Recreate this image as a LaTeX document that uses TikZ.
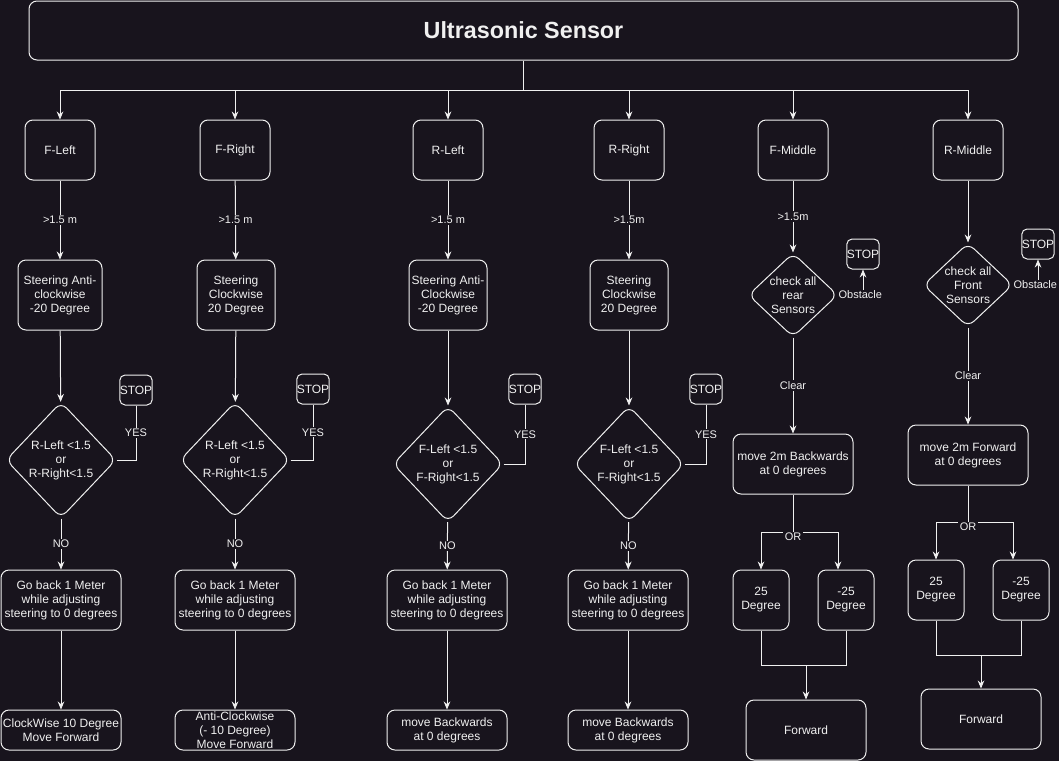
\documentclass[tikz,border=0pt]{standalone}
\usepackage{fontspec}
\setmainfont{Liberation Sans}
\usetikzlibrary{shapes.geometric, arrows.meta, positioning}
\definecolor{canvas}{RGB}{24,20,29}
\definecolor{ink}{RGB}{240,240,240}
\tikzstyle{process} = [rectangle, rounded corners=6pt, minimum width=90pt, minimum height=45pt, inner sep=1pt, align=center, draw=ink, line width=0.75pt, text=ink, fill=canvas, font=\fontsize{9}{10.5}\selectfont]
\tikzstyle{sensor} = [process, minimum width=52.5pt]
\tikzstyle{steer} = [process, minimum width=58.5pt, minimum height=52.5pt]
\tikzstyle{result} = [process, minimum height=30pt]
\tikzstyle{turn} = [process, minimum width=42pt]
\tikzstyle{halt} = [process, minimum width=22.5pt, minimum height=22.5pt, inner sep=0pt, rounded corners=4pt]
\tikzstyle{decision} = [diamond, aspect=1, rounded corners=6pt, inner sep=0pt, minimum width=82.5pt, minimum height=87pt, align=center, draw=ink, line width=0.75pt, text=ink, fill=canvas, font=\fontsize{9}{10.5}\selectfont]
\tikzstyle{check} = [decision, aspect=1.05, minimum width=67pt, minimum height=63pt]
\tikzstyle{lbl} = [fill=canvas, text=ink, inner sep=1pt, font=\fontsize{8.25}{9.5}\selectfont]
\tikzstyle{arrow} = [draw=ink, line width=0.75pt, -{Stealth[length=6pt,width=5pt]}]
\tikzstyle{link} = [draw=ink, line width=0.75pt]

\begin{document}
\begin{tikzpicture}[x=0.75pt, y=-0.75pt]

\fill [canvas] (0,0) rectangle (1059,761);
\useasboundingbox (0,0) rectangle (1059,761);

\node (title) [process, minimum width=741.75pt, minimum height=44.25pt, font=\fontsize{17.5}{21}\selectfont\bfseries] at (523.5,30.5) {Ultrasonic Sensor};
\coordinate (bus) at (523.5,90);

% sensors
\node (fleft) [sensor] at (60,150) {F-Left};
\node (fright) [sensor] at (235,150) {F-Right};
\node (rleft) [sensor] at (448,150) {R-Left};
\node (rright) [sensor] at (629,150) {R-Right};
\node (fmid) [sensor] at (793,150) {F-Middle};
\node (rmid) [sensor] at (968,150) {R-Middle};

\draw [arrow] (title.south) -- (bus) -| (fleft.north);
\draw [arrow] (bus) -| (fright.north);
\draw [arrow] (bus) -| (rleft.north);
\draw [arrow] (bus) -| (rright.north);
\draw [arrow] (bus) -| (fmid.north);
\draw [arrow] (bus) -| (rmid.north);

% F-Left
\node (flsteer) [steer, minimum width=63pt] at (60,295) {Steering Anti-\\clockwise\\-20 Degree};
\node (flcheck) [decision] at (61,460) {R-Left <1.5\\or\\R-Right<1.5};
\node (flstop) [halt] at (136,390) {STOP};
\node (flback) [process] at (61,600) {Go back 1 Meter\\while adjusting\\steering to 0 degrees};
\node (flres) [result] at (61,730) {ClockWise 10 Degree\\Move Forward};

\draw [arrow] (fleft) -- node [lbl] {>1.5 m} (flsteer);
\draw [arrow] (flsteer) -- (flcheck);
\draw [link] (flcheck.east) -| node [lbl, pos=0.75] {YES} (flstop.south);
\draw [arrow] (flcheck) -- node [lbl] {NO} (flback);
\draw [arrow] (flback) -- (flres);

% F-Right
\node (frsteer) [steer] at (236,295) {Steering\\Clockwise\\20 Degree};
\node (frcheck) [decision] at (235,460) {R-Left <1.5\\or\\R-Right<1.5};
\node (frstop) [halt] at (313,389) {STOP};
\node (frback) [process] at (235,600) {Go back 1 Meter\\while adjusting\\steering to 0 degrees};
\node (frres) [result, inner sep=0pt] at (235,730) {Anti-Clockwise\\(- 10 Degree)\\Move Forward};

\draw [arrow] (fright) -- node [lbl] {>1.5 m} (frsteer);
\draw [arrow] (frsteer) -- (frcheck);
\draw [link] (frcheck.east) -| node [lbl, pos=0.75] {YES} (frstop.south);
\draw [arrow] (frcheck) -- node [lbl] {NO} (frback);
\draw [arrow] (frback) -- (frres);

% R-Left
\node (rlsteer) [steer] at (448,295) {Steering Anti-\\Clockwise\\-20 Degree};
\node (rlcheck) [decision] at (448,464) {F-Left <1.5\\or\\F-Right<1.5};
\node (rlstop) [halt] at (525,389) {STOP};
\node (rlback) [process] at (447,600) {Go back 1 Meter\\while adjusting\\steering to 0 degrees};
\node (rlres) [result] at (447,730) {move Backwards\\at 0 degrees};

\draw [arrow] (rleft) -- node [lbl] {>1.5 m} (rlsteer);
\draw [arrow] (rlsteer) -- (rlcheck);
\draw [link] (rlcheck.east) -| node [lbl, pos=0.75] {YES} (rlstop.south);
\draw [arrow] (rlcheck) -- node [lbl] {NO} (rlback);
\draw [arrow] (rlback) -- (rlres);

% R-Right
\node (rrsteer) [steer] at (629,295) {Steering\\Clockwise\\20 Degree};
\node (rrcheck) [decision] at (629,464) {F-Left <1.5\\or\\F-Right<1.5};
\node (rrstop) [halt] at (706,389) {STOP};
\node (rrback) [process] at (628,600) {Go back 1 Meter\\while adjusting\\steering to 0 degrees};
\node (rrres) [result] at (628,730) {move Backwards\\at 0 degrees};

\draw [arrow] (rright) -- node [lbl] {>1.5m} (rrsteer);
\draw [arrow] (rrsteer) -- (rrcheck);
\draw [link] (rrcheck.east) -| node [lbl, pos=0.75] {YES} (rrstop.south);
\draw [arrow] (rrcheck) -- node [lbl] {NO} (rrback);
\draw [arrow] (rrback) -- (rrres);

% F-Middle
\node (fmcheck) [check] at (793,295) {check all\\rear\\Sensors};
\node (fmstop) [halt] at (863,254) {STOP};
\node (fmback) [process] at (793,464) {move 2m Backwards\\at 0 degrees};
\node (fmpos) [turn] at (761,600) {25\\Degree};
\node (fmneg) [turn] at (846,600) {-25\\Degree};
\node (fmfwd) [process] at (806,730) {Forward};
\coordinate (fmor) at (793,532);
\coordinate (fmjoin) at (806,665);

\draw [arrow] (fmid) -- node [lbl] {>1.5m} (fmcheck);
\draw [arrow] (fmcheck.east) -| node [lbl, pos=0.5, xshift=-2pt] {Obstacle} (fmstop.south);
\draw [arrow] (fmcheck) -- node [lbl] {Clear} (fmback);
\draw [link] (fmback) -- (fmor);
\draw [arrow] (fmor) -| (fmpos.north);
\draw [arrow] (fmor) -| ([xshift=-6pt]fmneg.north);
\node [lbl] at ([yshift=-3.75pt]fmor) {OR};
\draw [link] (fmpos.south) |- (fmjoin) -| (fmneg.south);
\draw [arrow] (fmjoin) -- (fmfwd);

% R-Middle
\node (rmcheck) [check] at (968,285) {check all\\Front\\Sensors};
\node (rmstop) [halt] at (1038,244) {STOP};
\node (rmback) [process] at (968,455) {move 2m Forward\\at 0 degrees};
\node (rmpos) [turn] at (936,590) {25\\Degree};
\node (rmneg) [turn] at (1021,590) {-25\\Degree};
\node (rmfwd) [process] at (981,719) {Forward};
\coordinate (rmor) at (968,522);
\coordinate (rmjoin) at (981,655);

\draw [arrow] (rmid) -- (rmcheck);
\draw [arrow] (rmcheck.east) -| node [lbl, pos=0.5, xshift=-2pt] {Obstacle} (rmstop.south);
\draw [arrow] (rmcheck) -- node [lbl] {Clear} (rmback);
\draw [link] (rmback) -- (rmor);
\draw [arrow] (rmor) -| (rmpos.north);
\draw [arrow] (rmor) -| ([xshift=-6pt]rmneg.north);
\node [lbl] at ([yshift=-3.75pt]rmor) {OR};
\draw [link] (rmpos.south) |- (rmjoin) -| (rmneg.south);
\draw [arrow] (rmjoin) -- (rmfwd);

\end{tikzpicture}
\end{document}
